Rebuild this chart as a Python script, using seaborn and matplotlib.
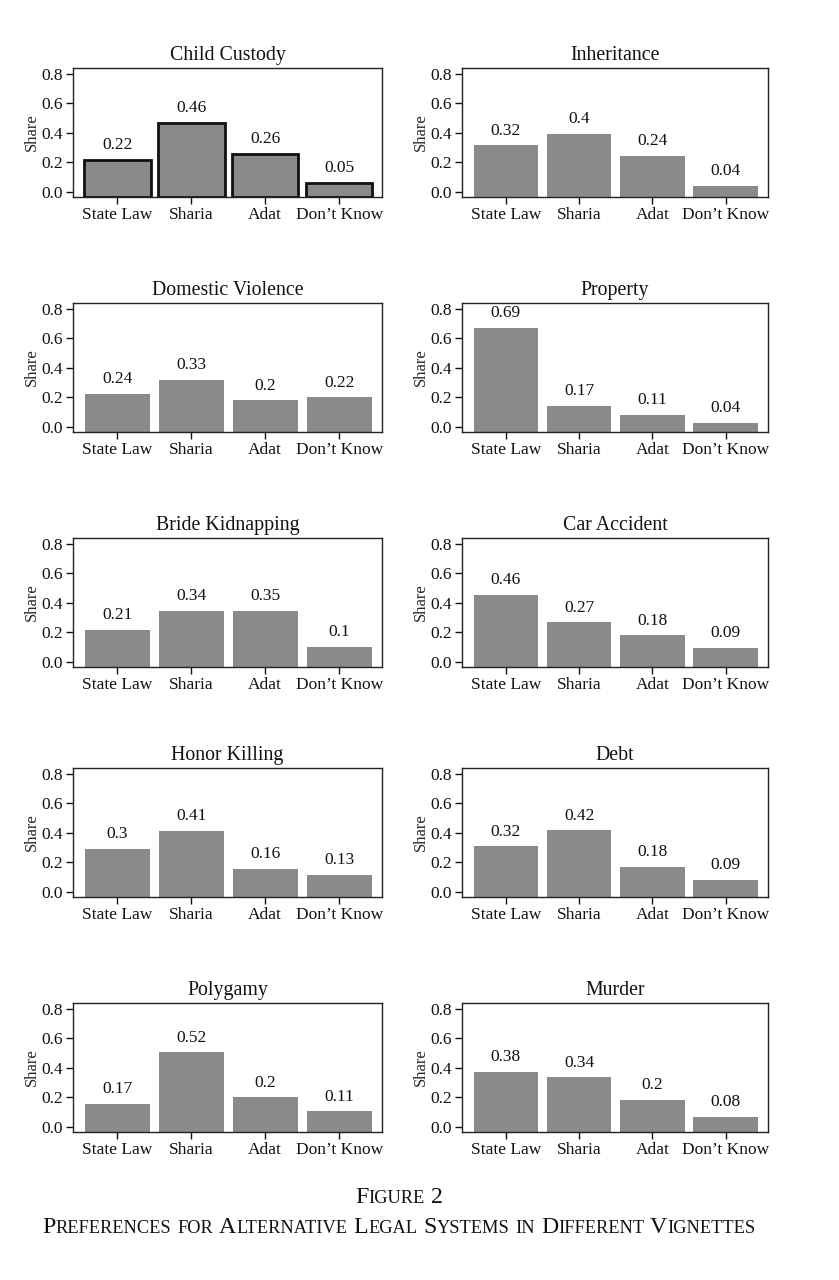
import numpy as np
import matplotlib
matplotlib.use("Agg")
import matplotlib.pyplot as plt
import seaborn as sns

# categories shared by every panel
systems = ["State Law", "Sharia", "Adat", "Don\u2019t Know"]

# vignette titles, in reading order (left-right, top-bottom)
vignettes = ["Child Custody", "Inheritance", "Domestic Violence", "Property",
             "Bride Kidnapping", "Car Accident", "Honor Killing", "Debt",
             "Polygamy", "Murder"]

# printed labels above the bars
child_custody = [0.22, 0.46, 0.26, 0.05]
inheritance = [0.32, 0.4, 0.24, 0.04]
domestic_violence = [0.24, 0.33, 0.2, 0.22]
property_ = [0.69, 0.17, 0.11, 0.04]
bride_kidnapping = [0.21, 0.34, 0.35, 0.1]
car_accident = [0.46, 0.27, 0.18, 0.09]
honor_killing = [0.3, 0.41, 0.16, 0.13]
debt = [0.32, 0.42, 0.18, 0.09]
polygamy = [0.17, 0.52, 0.2, 0.11]
murder = [0.38, 0.34, 0.2, 0.08]

# bar heights (slightly differ from the labels)
child_custody_bar = [0.216, 0.466, 0.257, 0.061]
inheritance_bar = [0.316, 0.393, 0.245, 0.043]
domestic_violence_bar = [0.223, 0.318, 0.18, 0.20]
property_bar = [0.67, 0.145, 0.084, 0.03]
bride_kidnapping_bar = [0.22, 0.348, 0.348, 0.10]
car_accident_bar = [0.455, 0.268, 0.18, 0.095]
honor_killing_bar = [0.293, 0.414, 0.155, 0.118]
debt_bar = [0.309, 0.418, 0.168, 0.084]
polygamy_bar = [0.159, 0.505, 0.20, 0.105]
murder_bar = [0.373, 0.336, 0.186, 0.068]

labels = [child_custody, inheritance, domestic_violence, property_,
          bride_kidnapping, car_accident, honor_killing, debt, polygamy, murder]
bars = [child_custody_bar, inheritance_bar, domestic_violence_bar, property_bar,
        bride_kidnapping_bar, car_accident_bar, honor_killing_bar, debt_bar,
        polygamy_bar, murder_bar]

yticks = [0.0, 0.2, 0.4, 0.6, 0.8]

sns.set_style("ticks")
plt.rcParams["font.family"] = ["Liberation Serif", "DejaVu Serif"]
plt.rcParams["axes.linewidth"] = 1.0
plt.rcParams["text.color"] = "#111111"

fig = plt.figure(figsize=(8.39, 12.8), dpi=100)

W, H = 839, 1280
col_left = [73, 462]
col_width = [309, 306]
row_top = [68, 303, 538, 768, 1003]
ax_h = 129
y_lo, y_hi = -0.034, 0.84

for i, (title, lab, hts) in enumerate(zip(vignettes, labels, bars)):
    r, c = divmod(i, 2)
    ax = fig.add_axes([col_left[c] / W, 1 - (row_top[r] + ax_h) / H,
                       col_width[c] / W, ax_h / H])
    if i == 0:
        sns.barplot(x=systems, y=hts, color="#8a8a8a", saturation=1, width=0.9,
                    edgecolor="#111111", linewidth=2.0, ax=ax)
    else:
        sns.barplot(x=systems, y=hts, color="#8a8a8a", saturation=1, width=0.88,
                    linewidth=0, ax=ax)
    # bars run down to the bottom frame like in the original
    for p, h in zip(ax.patches, hts):
        p.set_y(y_lo)
        p.set_height(h - y_lo)
    for k, (h, v) in enumerate(zip(hts, lab)):
        ax.text(k, h + 0.1, f"{v:g}", ha="center", va="center", fontsize=12.5)
    ax.set_ylim(y_lo, y_hi)
    ax.set_xlim(-0.6, 3.58)
    ax.set_yticks(yticks)
    ax.set_yticklabels([f"{t:.1f}" for t in yticks])
    ax.set_title(title, fontsize=14.3, pad=6)
    ax.set_ylabel("Share", fontsize=12, labelpad=1)
    ax.set_xlabel("")
    ax.tick_params(axis="both", labelsize=12.5, length=5, width=1,
                   colors="#111111", pad=2)
    for s in ax.spines.values():
        s.set_visible(True)
        s.set_color("#222222")


def small_caps(text, y_px, big, small, cx):
    # draw "small caps": capitals/digits at full size, lowercase as small capitals
    renderer = fig.canvas.get_renderer()
    groups = []
    for word in text.split(" "):
        parts = []
        for ch in word:
            size = big if (ch.isupper() or ch.isdigit()) else small
            if parts and parts[-1][1] == size:
                parts[-1][0] += ch.upper()
            else:
                parts.append([ch.upper(), size])
        groups.append(parts)
    probe = fig.text(0, 0, "a a", fontsize=big)
    probe2 = fig.text(0, 0, "aa", fontsize=big)
    space = (probe.get_window_extent(renderer).width
             - probe2.get_window_extent(renderer).width)
    probe.remove()
    probe2.remove()
    items = []
    x = 0.0
    for gi, parts in enumerate(groups):
        if gi > 0:
            x += space
        for s, size in parts:
            t = fig.text(0, 0, s, fontsize=size, ha="left", va="baseline",
                         transform=None)
            w = t.get_window_extent(renderer).width
            items.append((t, x))
            x += w
    start = cx - x / 2
    for t, off in items:
        t.set_position((start + off, H - y_px))


small_caps("Figure 2", 1203, 17.2, 13.2, 399)
small_caps("Preferences for Alternative Legal Systems in Different Vignettes",
           1233, 17.2, 13.2, 399)

fig.savefig("out.png", dpi=100)
